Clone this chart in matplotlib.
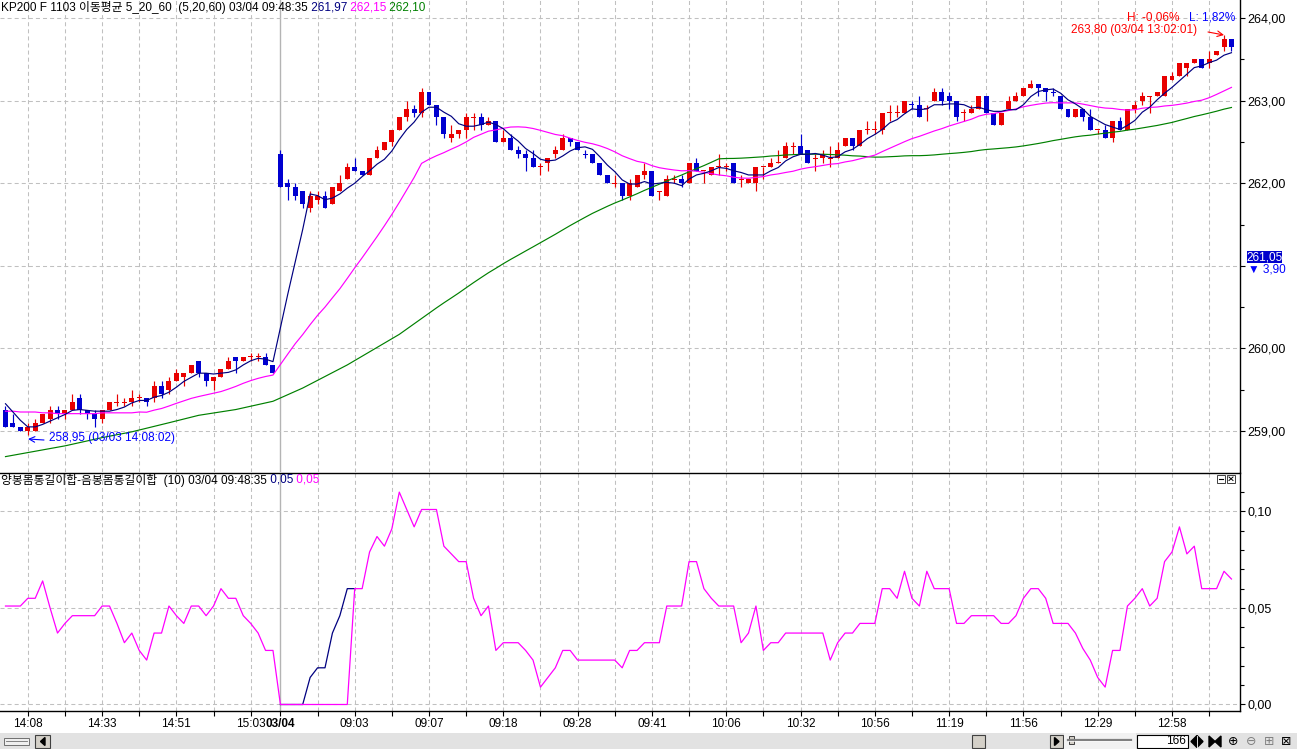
import matplotlib
matplotlib.use('Agg')
import matplotlib.pyplot as plt
import numpy as np
import pandas as pd
from matplotlib.patches import Rectangle, Polygon
from matplotlib.ticker import FuncFormatter, MultipleLocator
from matplotlib import font_manager as fm

names = {f.name for f in fm.fontManager.ttflist}
LAT = 'Liberation Sans' if 'Liberation Sans' in names else 'DejaVu Sans'
FAM = [LAT, 'Noto Sans CJK KR', 'DejaVu Sans']
plt.rcParams['font.family'] = FAM
plt.rcParams['lines.scale_dashes'] = False
plt.rcParams['axes.unicode_minus'] = False

# ---------------- data ----------------
label_pos = [3, 13, 23, 33, 37, 47, 57, 67, 77, 87, 97, 107, 117, 127, 137, 147, 157]
label_txt = ['14:08', '14:33', '14:51', '15:03', '03/04', '09:03', '09:07', '09:18', '09:28',
             '09:41', '10:06', '10:32', '10:56', '11:19', '11:56', '12:29', '12:58']
grid_pos = [3, 8, 13, 18, 23, 28, 33] + list(range(42, 166, 5))
day_break = 37
price_ticks = [259, 260, 261, 262, 263, 264]
ind_ticks = [0.0, 0.05, 0.10]

opens = [
259.25, 259.10, 259.05, 259.00, 259.00, 259.10, 259.15, 259.25, 259.20, 259.25,
259.40, 259.25, 259.20, 259.15, 259.25, 259.35, 259.35, 259.35, 259.40, 259.40,
259.40, 259.55, 259.50, 259.60, 259.65, 259.70, 259.85, 259.70, 259.60, 259.65,
259.75, 259.90, 259.85, 259.90, 259.90, 259.90, 259.80, 262.35, 262.00, 261.95,
261.90, 261.70, 261.80, 261.85, 261.75, 261.90, 262.05, 262.20, 262.15, 262.10,
262.30, 262.40, 262.50, 262.65, 262.80, 262.90, 262.85, 263.10, 262.95, 262.80,
262.55, 262.60, 262.65, 262.80, 262.80, 262.70, 262.75, 262.50, 262.55, 262.40,
262.35, 262.30, 262.20, 262.25, 262.35, 262.40, 262.55, 262.50, 262.35, 262.35,
262.25, 262.10, 262.00, 262.00, 261.85, 261.95, 262.10, 262.15, 261.90, 261.85,
262.05, 262.05, 262.00, 262.25, 262.15, 262.10, 262.20, 262.20, 262.25, 262.05,
262.00, 262.00, 262.20, 262.20, 262.25, 262.30, 262.45, 262.45, 262.40, 262.30,
262.30, 262.30, 262.30, 262.45, 262.55, 262.45, 262.65, 262.65, 262.65, 262.85,
262.85, 262.85, 262.95, 262.95, 262.90, 263.00, 263.10, 263.05, 263.00, 262.85,
262.85, 262.90, 263.05, 262.85, 262.70, 262.90, 263.00, 263.05, 263.15, 263.20,
263.15, 263.10, 263.05, 262.90, 262.80, 262.90, 262.80, 262.65, 262.65, 262.55,
262.75, 262.65, 262.90, 263.00, 263.05, 263.05, 263.05, 263.25, 263.30, 263.40,
263.45, 263.50, 263.45, 263.55, 263.65, 263.75]

highs = [
259.30, 259.20, 259.05, 259.10, 259.15, 259.20, 259.30, 259.30, 259.25, 259.45,
259.45, 259.25, 259.25, 259.25, 259.35, 259.45, 259.40, 259.50, 259.45, 259.40,
259.60, 259.60, 259.65, 259.75, 259.70, 259.80, 259.85, 259.70, 259.65, 259.75,
259.90, 259.90, 259.90, 259.95, 259.95, 259.95, 259.80, 262.40, 262.05, 262.00,
261.90, 261.90, 261.90, 261.90, 261.95, 262.10, 262.25, 262.30, 262.15, 262.30,
262.45, 262.50, 262.65, 262.80, 263.00, 262.95, 263.15, 263.10, 262.95, 262.80,
262.70, 262.65, 262.85, 262.85, 262.85, 262.80, 262.75, 262.65, 262.60, 262.45,
262.40, 262.40, 262.25, 262.30, 262.45, 262.60, 262.55, 262.50, 262.40, 262.35,
262.25, 262.10, 262.10, 262.00, 262.05, 262.10, 262.25, 262.15, 261.90, 262.10,
262.10, 262.10, 262.25, 262.30, 262.15, 262.20, 262.35, 262.25, 262.25, 262.10,
262.05, 262.20, 262.20, 262.30, 262.40, 262.50, 262.50, 262.60, 262.40, 262.35,
262.40, 262.45, 262.50, 262.55, 262.55, 262.65, 262.75, 262.75, 262.85, 262.95,
262.95, 263.00, 263.00, 263.05, 262.95, 263.15, 263.15, 263.10, 263.00, 262.90,
262.95, 263.05, 263.05, 262.85, 262.85, 263.05, 263.10, 263.15, 263.25, 263.20,
263.15, 263.15, 263.05, 262.90, 262.90, 262.90, 262.90, 262.65, 262.70, 262.75,
262.80, 262.90, 263.00, 263.10, 263.05, 263.10, 263.30, 263.35, 263.45, 263.45,
263.50, 263.50, 263.60, 263.60, 263.80, 263.75]

lows = [
259.05, 259.05, 259.00, 258.95, 259.00, 259.10, 259.10, 259.15, 259.15, 259.25,
259.20, 259.15, 259.05, 259.10, 259.25, 259.30, 259.30, 259.30, 259.35, 259.30,
259.35, 259.40, 259.45, 259.60, 259.55, 259.70, 259.65, 259.55, 259.50, 259.65,
259.75, 259.70, 259.85, 259.85, 259.85, 259.80, 259.70, 261.95, 261.80, 261.80,
261.70, 261.65, 261.75, 261.70, 261.75, 261.90, 262.05, 262.15, 262.10, 262.10,
262.30, 262.40, 262.45, 262.65, 262.75, 262.80, 262.80, 262.95, 262.70, 262.55,
262.50, 262.55, 262.55, 262.65, 262.65, 262.70, 262.50, 262.50, 262.40, 262.30,
262.15, 262.20, 262.10, 262.15, 262.30, 262.40, 262.45, 262.40, 262.30, 262.25,
262.10, 262.00, 261.95, 261.80, 261.80, 261.95, 262.05, 261.85, 261.80, 261.85,
262.00, 261.95, 262.00, 262.15, 262.00, 262.10, 262.10, 262.15, 262.00, 261.95,
262.00, 261.90, 262.05, 262.20, 262.25, 262.30, 262.35, 262.35, 262.25, 262.15,
262.25, 262.20, 262.30, 262.45, 262.40, 262.45, 262.60, 262.60, 262.60, 262.75,
262.80, 262.85, 262.90, 262.80, 262.75, 263.00, 262.95, 262.90, 262.75, 262.75,
262.85, 262.90, 262.85, 262.70, 262.70, 262.90, 263.00, 263.05, 263.15, 263.05,
263.00, 263.05, 262.90, 262.80, 262.80, 262.75, 262.65, 262.60, 262.55, 262.50,
262.65, 262.65, 262.85, 262.95, 262.85, 263.05, 263.05, 263.25, 263.30, 263.30,
263.45, 263.40, 263.40, 263.55, 263.60, 263.60]

closes = [
259.05, 259.05, 259.00, 259.05, 259.10, 259.20, 259.25, 259.20, 259.25, 259.35,
259.25, 259.20, 259.15, 259.25, 259.35, 259.35, 259.35, 259.40, 259.40, 259.35,
259.55, 259.45, 259.60, 259.70, 259.70, 259.80, 259.70, 259.60, 259.65, 259.75,
259.85, 259.85, 259.90, 259.90, 259.90, 259.80, 259.70, 261.95, 261.95, 261.85,
261.75, 261.85, 261.85, 261.70, 261.95, 262.00, 262.20, 262.15, 262.10, 262.30,
262.40, 262.50, 262.65, 262.80, 262.90, 262.85, 263.10, 262.95, 262.80, 262.60,
262.60, 262.65, 262.80, 262.80, 262.70, 262.75, 262.50, 262.55, 262.40, 262.35,
262.30, 262.20, 262.20, 262.30, 262.40, 262.55, 262.50, 262.40, 262.35, 262.25,
262.10, 262.00, 262.00, 261.85, 262.00, 262.10, 262.15, 261.85, 261.90, 262.05,
262.05, 262.00, 262.25, 262.15, 262.15, 262.20, 262.20, 262.20, 262.00, 262.05,
262.05, 262.20, 262.20, 262.25, 262.25, 262.45, 262.45, 262.35, 262.25, 262.30,
262.35, 262.30, 262.40, 262.55, 262.45, 262.65, 262.65, 262.65, 262.85, 262.85,
262.85, 263.00, 262.95, 262.80, 262.90, 263.10, 263.00, 263.00, 262.80, 262.85,
262.90, 263.05, 262.85, 262.70, 262.85, 263.00, 263.05, 263.15, 263.20, 263.15,
263.10, 263.10, 262.90, 262.80, 262.90, 262.80, 262.65, 262.65, 262.55, 262.75,
262.65, 262.90, 262.95, 263.05, 263.05, 263.10, 263.30, 263.30, 263.45, 263.45,
263.50, 263.40, 263.50, 263.60, 263.75, 263.65]

blue_doji = [78, 122, 141]

# moving-average values before enough bars are on screen
ma5_head = [259.33, 259.23, 259.13, 259.05]
ma20_head = [259.24, 259.24, 259.23, 259.23, 259.23, 259.22, 259.22, 259.21, 259.21, 259.21,
             259.21, 259.21, 259.21, 259.22, 259.22, 259.22, 259.22, 259.22, 259.23]
ma60_head_idx = [0, 8, 13, 17, 22, 26, 31, 36, 37, 40, 46, 53, 58]
ma60_head_val = [258.69, 258.82, 258.92, 258.99, 259.10, 259.19, 259.26, 259.36, 259.40,
                 259.52, 259.80, 260.17, 260.49]

# lower indicator (magenta)
ind_main = [
0.051, 0.051, 0.051, 0.055, 0.055, 0.064, 0.050, 0.037, 0.042, 0.046,
0.046, 0.046, 0.046, 0.051, 0.051, 0.042, 0.032, 0.037, 0.028, 0.023,
0.037, 0.037, 0.051, 0.046, 0.042, 0.051, 0.051, 0.046, 0.051, 0.060,
0.055, 0.055, 0.046, 0.042, 0.037, 0.028, 0.028, 0.000, 0.000, 0.000,
0.000, 0.000, 0.000, 0.000, 0.000, 0.000, 0.000, 0.060, 0.060, 0.079,
0.087, 0.082, 0.091, 0.110, 0.101, 0.092, 0.101, 0.101, 0.101, 0.082,
0.078, 0.074, 0.074, 0.055, 0.046, 0.051, 0.028, 0.032, 0.032, 0.032,
0.028, 0.023, 0.009, 0.014, 0.019, 0.028, 0.028, 0.023, 0.023, 0.023,
0.023, 0.023, 0.023, 0.019, 0.028, 0.028, 0.032, 0.032, 0.032, 0.051,
0.051, 0.051, 0.074, 0.074, 0.060, 0.055, 0.051, 0.051, 0.051, 0.032,
0.037, 0.051, 0.028, 0.032, 0.032, 0.037, 0.037, 0.037, 0.037, 0.037,
0.037, 0.023, 0.032, 0.037, 0.037, 0.042, 0.042, 0.042, 0.060, 0.060,
0.055, 0.069, 0.055, 0.051, 0.069, 0.060, 0.060, 0.060, 0.042, 0.042,
0.046, 0.046, 0.046, 0.046, 0.042, 0.042, 0.046, 0.055, 0.060, 0.060,
0.055, 0.042, 0.042, 0.042, 0.037, 0.029, 0.023, 0.014, 0.009, 0.028,
0.028, 0.051, 0.055, 0.060, 0.051, 0.055, 0.074, 0.079, 0.092, 0.078,
0.082, 0.060, 0.060, 0.060, 0.069, 0.065]
# second indicator line (navy) where it differs from the magenta one
ind_navy_idx = [37, 38, 39, 40, 41, 42, 43, 44, 45, 46, 47]
ind_navy_val = [0.000, 0.000, 0.000, 0.000, 0.014, 0.019, 0.019, 0.037, 0.046, 0.060, 0.060]

header_main = "KP200 F 1103 이동평균 5_20_60  (5,20,60) 03/04 09:48:35"
header_vals = ['261,97', '262,15', '262,10']
header_ind = "양봉몸통길이합-음봉몸통길이합  (10) 03/04 09:48:35"
header_ind_vals = ['0,05', '0,05']
hi_text, lo_text = 'H: -0,06%', 'L: 1,82%'
hi_mark = '263,80 (03/04 13:02:01)'
lo_mark = '258,95 (03/03 14:08:02)'
cur_price, cur_change = '261,05', '▼ 3,90'
bar_count = '166'

# ---------------- figure ----------------
W, H = 1297, 749
PX = 0.72
fig = plt.figure(figsize=(W / 100, H / 100), dpi=100, facecolor='white')

AX_R = 1240
ax1 = fig.add_axes([0, 1 - 472 / H, AX_R / W, 472 / H])
ax2 = fig.add_axes([0, 1 - 711 / H, AX_R / W, (711 - 473) / H])

XMIN = -5.5 / 7.43
XMAX = (AX_R - 5.5) / 7.43

RED = '#E80000'
BLUE = '#0000D0'
NAVY = '#000080'
MAG = '#FF00FF'
GREEN = '#008000'
GRID = '#C0C0C0'
DASH = (0, (2.9, 2.2))

n = len(closes)
xi = np.arange(n)
o = np.array(opens)
c = np.array(closes)
hh = np.array(highs)
ll = np.array(lows)

for ax in (ax1, ax2):
    ax.set_xlim(XMIN, XMAX)
    for g in grid_pos:
        ax.axvline(g, color=GRID, lw=0.75, ls=DASH, zorder=1)
    ax.axvline(day_break, color='#B4B4B4', lw=1.0, zorder=1)
    for s in ('left',):
        ax.spines[s].set_visible(False)
    ax.spines['right'].set_color('black')
    ax.spines['right'].set_linewidth(1.0)

ax1.spines['top'].set_visible(False)
ax1.spines['bottom'].set_visible(False)
for s in ('top', 'bottom'):
    ax2.spines[s].set_color('black')
    ax2.spines[s].set_linewidth(1.0)

# ---- price panel ----
ax1.set_ylim(264.218 - 472 / 82.6, 264.218)
for v in price_ticks:
    ax1.axhline(v, color=GRID, lw=0.75, ls=DASH, zorder=1)

cols = []
for i in range(n):
    if c[i] > o[i]:
        cols.append(RED)
    elif c[i] < o[i]:
        cols.append(BLUE)
    else:
        cols.append(BLUE if i in blue_doji else RED)

ax1.vlines(xi, ll, hh, colors=cols, lw=0.85, zorder=2)
body_bot = np.minimum(o, c)
body_h = np.abs(c - o)
doji = body_h < 1e-9
body_h = np.where(doji, 1.0 / 82.6, body_h)
body_bot = np.where(doji, body_bot - 0.5 / 82.6, body_bot)
ax1.bar(xi, body_h, bottom=body_bot, width=0.67, color=cols, linewidth=0, zorder=3)

s = pd.Series(c)
ma5 = s.rolling(5).mean().to_numpy()
ma5[:len(ma5_head)] = ma5_head
ma20 = s.rolling(20).mean().to_numpy()
ma20[:len(ma20_head)] = ma20_head
ma60c = s.rolling(60).mean().to_numpy()
x60 = list(ma60_head_idx) + list(range(59, n))
y60 = list(ma60_head_val) + list(ma60c[59:])

ax1.plot(x60, y60, color=GREEN, lw=0.85, zorder=4)
ax1.plot(xi, ma20, color=MAG, lw=0.85, zorder=4)
ax1.plot(xi, ma5, color=NAVY, lw=0.85, zorder=5)

ax1.set_xticks([])
ax1.yaxis.tick_right()
ax1.set_yticks(price_ticks)
ax1.yaxis.set_minor_locator(MultipleLocator(0.5))
ax1.yaxis.set_major_formatter(FuncFormatter(
    lambda v, p: '' if abs(v - 261) < 1e-6 else f'{v:.2f}'.replace('.', ',')))
ax1.tick_params(axis='y', which='major', direction='out', length=5 * PX, width=0.8,
                pad=2 * PX, labelsize=9, colors='black')
ax1.tick_params(axis='y', which='minor', direction='out', length=4 * PX, width=0.8)

# ---- indicator panel ----
ax2.set_ylim(-0.00337, 0.1199)
for v in ind_ticks:
    ax2.axhline(v, color=GRID, lw=0.75, ls=DASH, zorder=1)
ax2.plot(ind_navy_idx, ind_navy_val, color=NAVY, lw=0.9, zorder=3)
ax2.plot(xi, ind_main, color=MAG, lw=0.9, zorder=4)

ax2.yaxis.tick_right()
ax2.set_yticks(ind_ticks)
ax2.yaxis.set_minor_locator(MultipleLocator(0.01))
ax2.yaxis.set_major_formatter(FuncFormatter(lambda v, p: f'{v:.2f}'.replace('.', ',')))
ax2.tick_params(axis='y', which='major', direction='out', length=5 * PX, width=0.8,
                pad=2 * PX, labelsize=9)
ax2.tick_params(axis='y', which='minor', direction='out', length=4 * PX, width=0.8)

all_ticks = sorted(grid_pos + [day_break])
lab_map = dict(zip(label_pos, label_txt))
ax2.set_xticks(all_ticks)
ax2.set_xticklabels([lab_map.get(t, '') for t in all_ticks])
ax2.tick_params(axis='x', direction='out', length=5 * PX, width=0.8, pad=1.5, labelsize=8.5)
for lab in ax2.get_xticklabels():
    if lab.get_text() == '03/04':
        lab.set_fontweight('bold')

# ---------------- overlay (pixel coordinates) ----------------
ov = fig.add_axes([0, 0, 1, 1], zorder=10)
ov.set_xlim(0, W)
ov.set_ylim(H, 0)
ov.axis('off')
ov.patch.set_alpha(0)


def chain(x, y, parts, size=8.5):
    t = ov.text(x, y, parts[0][0], color=parts[0][1], fontsize=size, ha='left', va='center')
    for txt, col in parts[1:]:
        t = ov.annotate(txt, xy=(1, 0.5), xycoords=t, color=col, fontsize=size,
                        ha='left', va='center')
    return t


chain(1, 8, [(header_main, 'black'), (' ' + header_vals[0], NAVY),
             (' ' + header_vals[1], MAG), (' ' + header_vals[2], GREEN)])
chain(1, 480, [(header_ind, 'black'), (' ' + header_ind_vals[0], NAVY),
               (' ' + header_ind_vals[1], MAG)])

# high / low markers
tl = ov.text(1235, 18, lo_text, color='#0000FF', fontsize=8.5, ha='right', va='center')
ov.annotate(hi_text + '   ', xy=(0, 0.5), xycoords=tl, color='#FF0000', fontsize=8.5,
            ha='right', va='center')
ov.text(1197, 30, hi_mark, color='#FF0000', fontsize=8.5, ha='right', va='center')
ov.annotate('', xy=(1224, 35), xytext=(1208, 32),
            arrowprops=dict(arrowstyle='->', color='#FF0000', lw=0.8, shrinkA=0, shrinkB=0))
ov.text(49, 438, lo_mark, color='#0000FF', fontsize=8.5, ha='left', va='center')
ov.annotate('', xy=(28, 439), xytext=(44, 440),
            arrowprops=dict(arrowstyle='->', color='#0000FF', lw=0.8, shrinkA=0, shrinkB=0))

# current price box
ov.add_patch(Rectangle((1247, 251), 35, 12, facecolor='#0000CC', edgecolor='none'))
ov.text(1264.5, 257, cur_price, color='white', fontsize=8.5, ha='center', va='center')
ov.text(1248, 269, cur_change, color='#0000FF', fontsize=8.5, ha='left', va='center')

# small window buttons of lower panel
for bx in (1217, 1227):
    ov.add_patch(Rectangle((bx, 475), 8, 7.5, facecolor='white', edgecolor='#404040', lw=0.7))
ov.plot([1219, 1223], [478.8, 478.8], color='black', lw=0.8)
ov.plot([1229, 1233], [477, 480.5], color='black', lw=0.7)
ov.plot([1229, 1233], [480.5, 477], color='black', lw=0.7)

# ---- scroll bar ----
ov.add_patch(Rectangle((0, 733), W, 16, facecolor='#E2E2E2', edgecolor='none'))
ov.add_patch(Rectangle((4, 737.5), 25, 7, facecolor='#EFEFEF', edgecolor='#707070', lw=0.7))
ov.plot([6, 27], [741, 741], color='#707070', lw=0.6)
ov.add_patch(Rectangle((35, 735), 15, 13, facecolor='#D4D0C8', edgecolor='#404040', lw=0.8))
ov.add_patch(Polygon([(45, 737.5), (45, 745.5), (40.5, 741.5)], closed=True, color='black'))
ov.add_patch(Rectangle((972, 735), 13, 13, facecolor='#D4D0C8', edgecolor='#404040', lw=0.8))
ov.add_patch(Rectangle((1050, 735), 13, 13, facecolor='#D4D0C8', edgecolor='#404040', lw=0.8))
ov.add_patch(Polygon([(1054.5, 737.5), (1054.5, 745.5), (1059, 741.5)], closed=True, color='black'))
ov.add_patch(Rectangle((1064, 733), 72, 16, facecolor='#F2F2F2', edgecolor='none'))
ov.plot([1068, 1131], [739.5, 739.5], color='#808080', lw=1.6)
ov.plot([1068, 1131], [740.5, 740.5], color='white', lw=0.5)
ov.add_patch(Rectangle((1069, 735.5), 5, 8, facecolor='#D4D0C8', edgecolor='#404040', lw=0.7))
ov.add_patch(Rectangle((1137, 735), 51, 13, facecolor='white', edgecolor='black', lw=0.8))
ov.text(1186, 741.5, bar_count, fontsize=8.5, ha='right', va='center', color='black')
ov.add_patch(Polygon([(1191, 741.5), (1197, 735.5), (1203, 741.5), (1197, 747.5)],
                     closed=True, color='black'))
ov.plot([1197, 1197], [735.5, 747.5], color='white', lw=0.6)
ov.add_patch(Polygon([(1209, 736), (1215, 741.5), (1209, 747)], closed=True, color='black'))
ov.add_patch(Polygon([(1221, 736), (1215, 741.5), (1221, 747)], closed=True, color='black'))
for gx, gl, gc in ((1233, '⊕', 'black'), (1251, '⊖', '#808080'),
                   (1269, '⊞', '#808080'), (1286, '⊠', 'black')):
    ov.text(gx, 741.5, gl, fontsize=9, ha='center', va='center', color=gc,
            family=['DejaVu Sans'])

fig.savefig('out.png', dpi=100, facecolor='white')
